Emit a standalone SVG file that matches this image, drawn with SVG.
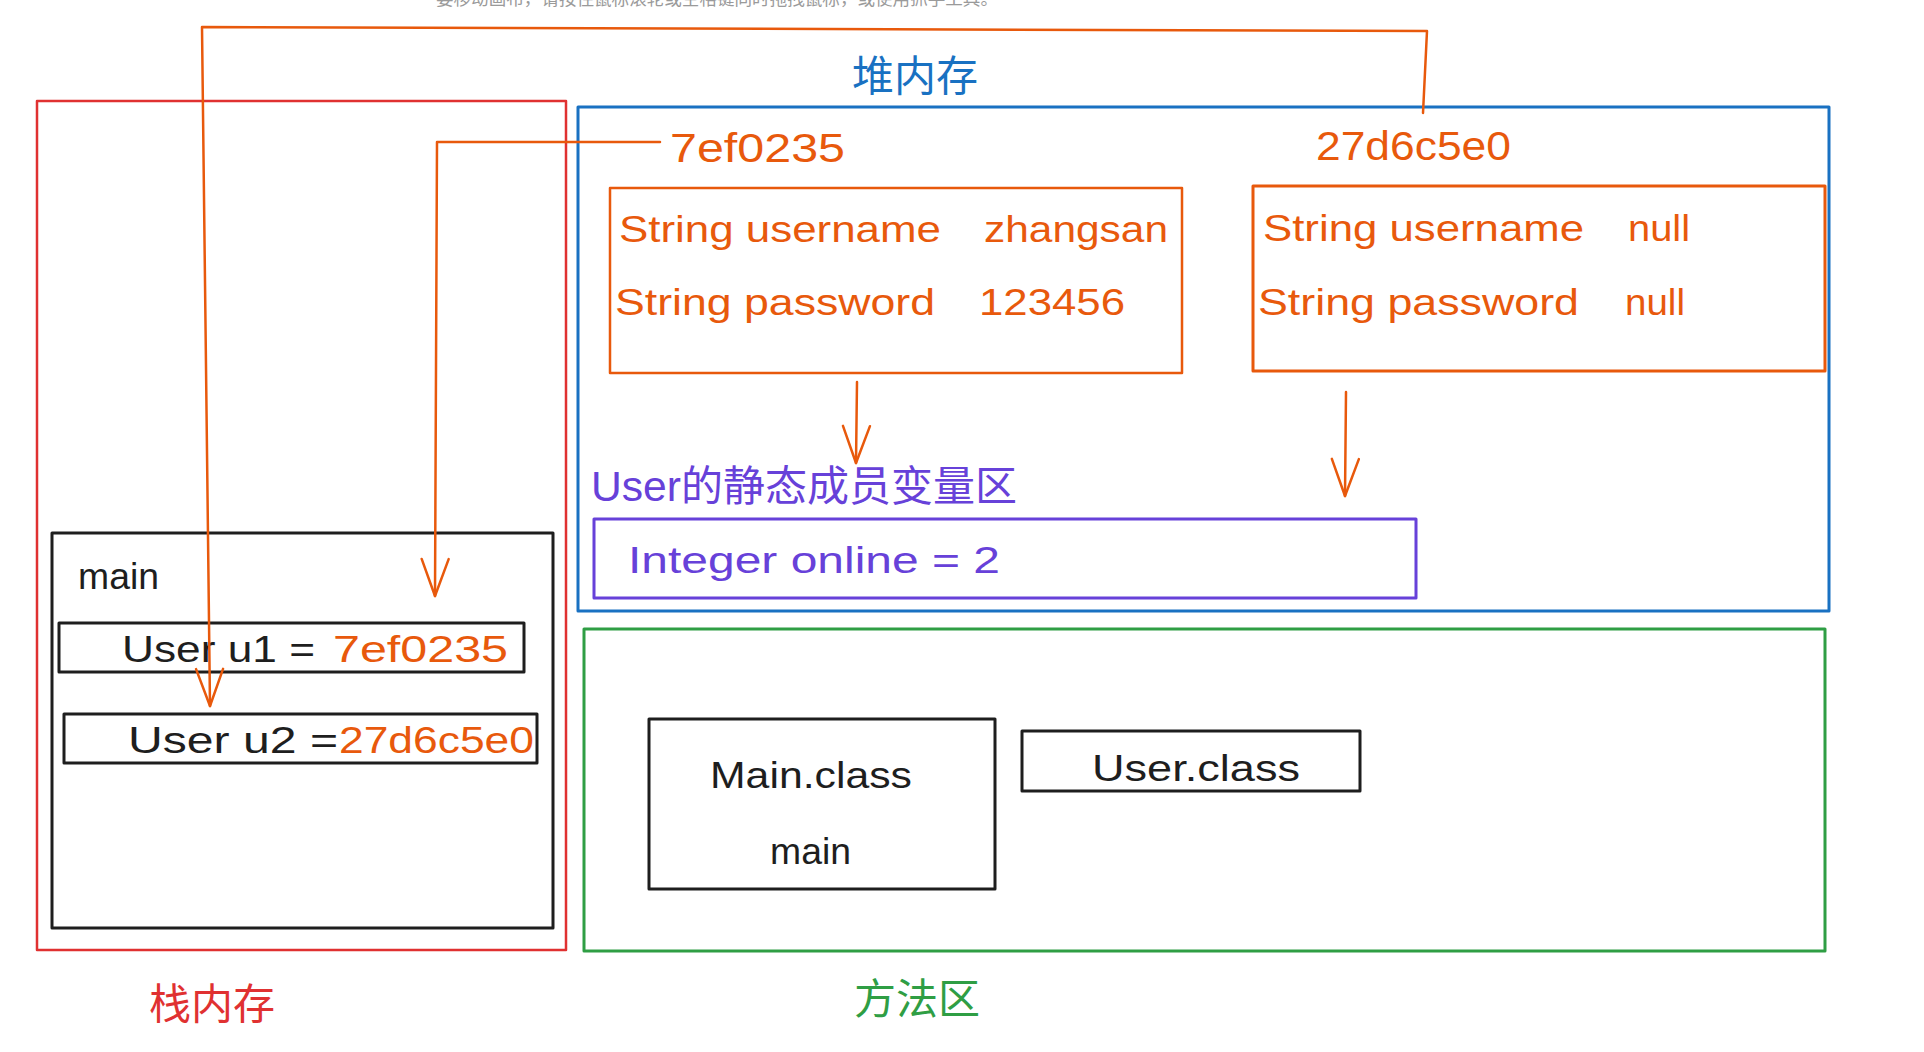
<svg xmlns="http://www.w3.org/2000/svg" width="1924" height="1052" viewBox="0 0 1924 1052">
<style>
  .hand { font-family: "Liberation Sans", Arial, sans-serif; font-size: 37px; white-space: pre; }
  .addr { font-size: 40px; }
  .cjk { font-family: "Noto Sans CJK SC", "Noto Sans", sans-serif; font-size: 42px; }
  .hint { font-family: "Noto Sans CJK SC", sans-serif; font-size: 17.5px; fill: #9a9a9a; }
  .box { fill: none; stroke-width: 2.5; stroke-linejoin: round; }
  .red { stroke: #e03131; }
  .blue { stroke: #1971c2; }
  .green { stroke: #2f9e44; }
  .orange { stroke: #e8590c; }
  .purple { stroke: #6741d9; }
  .black { stroke: #1e1e1e; stroke-width: 3; }
  .t-orange { fill: #e8590c; }
  .t-black { fill: #1e1e1e; }
  .t-purple { fill: #6741d9; }
  .conn { fill: none; stroke: #e8590c; stroke-width: 2.5; stroke-linejoin: round; stroke-linecap: round; }
</style>
<defs>
  <marker id="vhead" markerUnits="userSpaceOnUse" viewBox="-42 -18 46 36" refX="0" refY="0" markerWidth="46" markerHeight="36" orient="auto" overflow="visible">
    <path d="M-37,-13.5 L0,0 L-37,13.5" fill="none" stroke="#e8590c" stroke-width="2.5" stroke-linecap="round" stroke-linejoin="round"/>
  </marker>
</defs>
<rect width="1924" height="1052" fill="#ffffff"/>

<text class="hint" x="436" y="5" textLength="562" lengthAdjust="spacingAndGlyphs">要移动画布，请按住鼠标滚轮或空格键同时拖拽鼠标，或使用抓手工具。</text>

<g id="stack-memory">
  <rect class="box red" x="37" y="101" width="529" height="849"/>
  <text class="cjk" x="149" y="1019" fill="#e03131">栈内存</text>
</g>

<g id="heap-memory">
  <rect class="box blue" x="578" y="107" width="1251" height="504" style="stroke-width:3"/>
  <text class="cjk" x="852" y="91" fill="#1971c2">堆内存</text>
</g>

<g id="method-area">
  <rect class="box green" x="584" y="629" width="1241" height="322" style="stroke-width:3"/>
  <text class="cjk" x="854" y="1014" fill="#2f9e44">方法区</text>
</g>

<g id="object-7ef0235">
  <text class="hand addr t-orange" x="670" y="162" textLength="175" lengthAdjust="spacingAndGlyphs">7ef0235</text>
  <rect class="box orange" x="610" y="188" width="572" height="185"/>
  <text class="hand t-orange" y="242"><tspan x="619" textLength="322" lengthAdjust="spacingAndGlyphs">String username</tspan>  <tspan x="984" textLength="184" lengthAdjust="spacingAndGlyphs">zhangsan</tspan></text>
  <text class="hand t-orange" y="315"><tspan x="615" textLength="320" lengthAdjust="spacingAndGlyphs">String password</tspan>  <tspan x="979" textLength="146" lengthAdjust="spacingAndGlyphs">123456</tspan></text>
</g>

<g id="object-27d6c5e0">
  <text class="hand addr t-orange" x="1316" y="160" textLength="195" lengthAdjust="spacingAndGlyphs">27d6c5e0</text>
  <rect class="box orange" x="1253" y="186" width="572" height="185" style="stroke-width:3"/>
  <text class="hand t-orange" y="241"><tspan x="1263" textLength="321" lengthAdjust="spacingAndGlyphs">String username</tspan>  <tspan x="1628" textLength="62" lengthAdjust="spacingAndGlyphs">null</tspan></text>
  <text class="hand t-orange" y="315"><tspan x="1258" textLength="321" lengthAdjust="spacingAndGlyphs">String password</tspan>  <tspan x="1625" textLength="60" lengthAdjust="spacingAndGlyphs">null</tspan></text>
</g>

<g id="static-area">
  <text class="t-purple" y="501"><tspan class="hand" x="591" style="font-size:42px" textLength="90" lengthAdjust="spacingAndGlyphs">User</tspan><tspan class="cjk" x="681">的静态成员变量区</tspan></text>
  <rect class="box purple" x="594" y="519" width="822" height="79" style="stroke-width:3"/>
  <text class="hand t-purple" x="628" y="573" textLength="372" lengthAdjust="spacingAndGlyphs">Integer online = 2</text>
</g>

<g id="main-frame">
  <rect class="box black" x="52" y="533" width="501" height="395"/>
  <text class="hand t-black" x="78" y="589" textLength="81" lengthAdjust="spacingAndGlyphs">main</text>
</g>

<g id="var-u1">
  <rect class="box black" x="59" y="623" width="465" height="49"/>
  <text class="hand" y="662"><tspan class="t-black" x="122" textLength="193" lengthAdjust="spacingAndGlyphs">User u1 =</tspan> <tspan class="t-orange" x="333" textLength="175" lengthAdjust="spacingAndGlyphs">7ef0235</tspan></text>
</g>

<g id="var-u2">
  <rect class="box black" x="64" y="714" width="473" height="49"/>
  <text class="hand" y="753"><tspan class="t-black" x="128" textLength="210" lengthAdjust="spacingAndGlyphs">User u2 =</tspan><tspan class="t-orange" x="339" textLength="195" lengthAdjust="spacingAndGlyphs">27d6c5e0</tspan></text>
</g>

<g id="main-class">
  <rect class="box black" x="649" y="719" width="346" height="170"/>
  <text class="hand t-black" x="710" y="788" textLength="202" lengthAdjust="spacingAndGlyphs">Main.class</text>
  <text class="hand t-black" x="770" y="864" textLength="81" lengthAdjust="spacingAndGlyphs">main</text>
</g>

<g id="user-class">
  <rect class="box black" x="1022" y="731" width="338" height="60"/>
  <text class="hand t-black" x="1092" y="781" textLength="208" lengthAdjust="spacingAndGlyphs">User.class</text>
</g>

<g id="connectors">
  <path class="conn" d="M1423,113 L1427,31 L202,27 L210,706" marker-end="url(#vhead)"/>
  <path class="conn" d="M660,142 L437,142 L435,596" marker-end="url(#vhead)"/>
  <path class="conn" d="M857,382 L856,463" marker-end="url(#vhead)"/>
  <path class="conn" d="M1346,392 L1345,496" marker-end="url(#vhead)"/>
</g>
</svg>
